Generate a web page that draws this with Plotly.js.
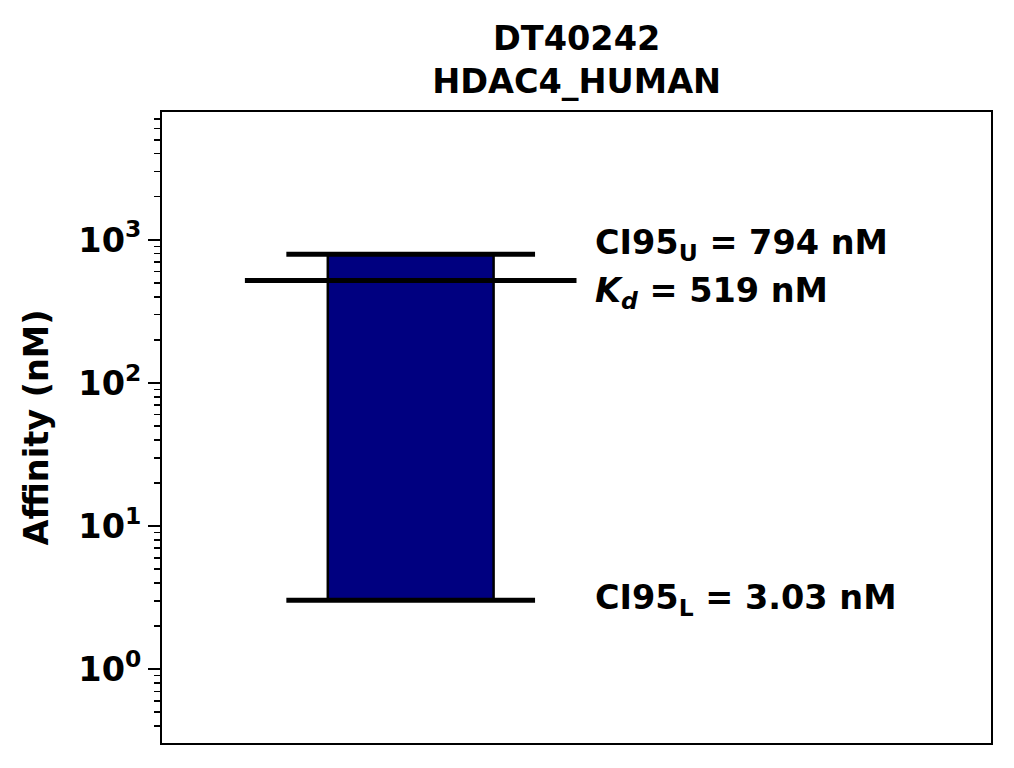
<!DOCTYPE html>
<html><head><meta charset="utf-8">
<script src="https://cdn.plot.ly/plotly-3.0.1.min.js"></script>
<style>body{margin:0;padding:0;background:#fff;}#chart{width:1014px;height:768px;}</style>
</head><body><div id="chart"></div>
<script>
const compound = "DT40242";
const target = "HDAC4_HUMAN";
const kd = 519;
const ciLower = 3.03;
const ciUpper = 794;
const tickVals = [1, 10, 100, 1000];
const tickText = ["10<sup>0</sup>", "10<sup>1</sup>", "10<sup>2</sup>", "10<sup>3</sup>"];

const FONT = "DejaVu Sans, sans-serif";
const FS = 33.5;
const barX = 0.3;

const traces = [
  {type:'bar', x:[barX], y:[ciUpper - ciLower], base:[ciLower], width:[0.2],
   marker:{color:'#000080', line:{color:'#000000', width:2.5}}, hoverinfo:'skip'},
  {type:'scatter', mode:'lines', x:[barX-0.15, barX+0.15], y:[ciUpper, ciUpper], line:{color:'#000', width:5}},
  {type:'scatter', mode:'lines', x:[barX-0.2, barX+0.2], y:[kd, kd], line:{color:'#000', width:5}},
  {type:'scatter', mode:'lines', x:[barX-0.15, barX+0.15], y:[ciLower, ciLower], line:{color:'#000', width:5}}
];

const annFont = {family:FONT, size:FS, color:'#000'};
const layout = {
  width:1014, height:768,
  margin:{l:162, r:23, t:112, b:25},
  paper_bgcolor:'#fff', plot_bgcolor:'#fff',
  showlegend:false,
  title:{text:'<b>' + compound + '<br>' + target + '</b>', x:0.5687, xanchor:'center', y:0.9355, yanchor:'top',
         font:{family:FONT, size:FS, color:'#000'}},
  xaxis:{range:[0,1], showticklabels:false, ticks:'', showgrid:false, zeroline:false,
         showline:true, linecolor:'#000', linewidth:2, mirror:true},
  yaxis:{type:'log', range:[-0.516, 3.893], tickvals:tickVals, ticktext:tickText,
         ticks:'outside', ticklen:12, tickwidth:2, tickcolor:'#000',
         minor:{ticks:'outside', ticklen:6, tickwidth:1.5, tickcolor:'#000', dtick:'D1', showgrid:false},
         showgrid:false, zeroline:false, showline:true, linecolor:'#000', linewidth:2, mirror:true,
         tickfont:{family:FONT, size:FS, color:'#000', weight:'bold'},
         title:{text:'<b>Affinity (nM)</b>', font:{family:FONT, size:FS, color:'#000'}, standoff:20}},
  annotations:[
    {x:0.52, y:Math.log10(ciUpper), xref:'x', yref:'y', xanchor:'left', yanchor:'middle', yshift:9, showarrow:false,
     text:'<b>CI95<sub>U</sub> = ' + ciUpper + ' nM</b>', font:annFont},
    {x:0.52, y:Math.log10(kd), xref:'x', yref:'y', xanchor:'left', yanchor:'middle', yshift:-12, showarrow:false,
     text:'<b><i>K<sub>d</sub></i> = ' + kd + ' nM</b>', font:annFont},
    {x:0.52, y:Math.log10(ciLower), xref:'x', yref:'y', xanchor:'left', yanchor:'middle', yshift:0, showarrow:false,
     text:'<b>CI95<sub>L</sub> = ' + ciLower.toFixed(2) + ' nM</b>', font:annFont}
  ]
};
Plotly.newPlot('chart', traces, layout, {staticPlot:true, displayModeBar:false});
</script></body></html>
